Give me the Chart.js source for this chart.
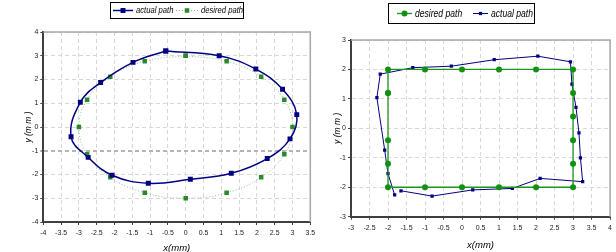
<!DOCTYPE html>
<html>
<head>
<meta charset="utf-8">
<script src="https://cdn.jsdelivr.net/npm/chart.js@4.4.1/dist/chart.umd.min.js"></script>
<style>
body { margin: 0; background: #fff; width: 616px; height: 252px; overflow: hidden; position: relative; }
#leftChart { position: absolute; left: 0; top: 0; }
#rightChart { position: absolute; left: 316px; top: 0; }
</style>
</head>
<body>
<canvas id="leftChart" width="325" height="252"></canvas>
<canvas id="rightChart" width="300" height="252"></canvas>
<script>
// left plot: circle path
var leftActualX = [-0.56, 0.94, 1.97, 2.72, 3.12, 2.93, 2.29, 1.28, 0.13, -1.05, -2.07, -2.74, -3.22, -2.96, -2.39, -1.48, -0.56];
var leftActualY = [3.2, 3.0, 2.44, 1.59, 0.52, -0.5, -1.33, -1.95, -2.2, -2.37, -2.03, -1.28, -0.41, 1.04, 1.87, 2.72, 3.2];
var leftDesiredX = [0, 1.15, 2.12, 2.77, 3, 2.77, 2.12, 1.15, 0, -1.15, -2.12, -2.77, -3, -2.77, -2.12, -1.15, 0];
var leftDesiredY = [3, 2.77, 2.12, 1.15, 0, -1.15, -2.12, -2.77, -3, -2.77, -2.12, -1.15, 0, 1.15, 2.12, 2.77, 3];

// right plot: rectangle path
var rightDesiredX = [-2, -2, -1, 0, 1, 2, 3, 3, 3, 3, 3, 3, 2, 1, 0, -1, -2, -2, -2, -2];
var rightDesiredY = [1.2, 2, 2, 2, 2, 2, 2, 1.2, 0.4, -0.4, -1.2, -2, -2, -2, -2, -2, -2, -1.2, -0.4, 1.2];
var rightActualX = [-1.65, -0.81, 0.29, 1.36, 2.11, 3.26, 3.2, 3.16, 3.08, 2.97, 2.93, 2.05, 0.87, -0.29, -1.33, -2.21, -2.30, -2.09, -2.0, -1.82];
var rightActualY = [-2.12, -2.3, -2.09, -2.04, -1.7, -1.81, -1.0, -0.15, 0.71, 1.5, 2.26, 2.45, 2.33, 2.11, 2.06, 1.84, 1.04, -0.74, -1.54, -2.26];

var leftRangeX = [-4, 3.5], leftRangeY = [-4, 4];
var rightRangeX = [-3, 4], rightRangeY = [-3, 3];
var xTitle = 'x(mm)', yTitle = 'y (m m )';

function toPoints(xs, ys) {
    var pts = [];
    for (var i = 0; i < xs.length; i++) pts.push({x: xs[i], y: ys[i]});
    return pts;
}

var FONT = '"Liberation Sans", Arial, sans-serif';
var NAVY = '#000080';

// gray frame on top and right of the plot
var frame = {
    id: 'frame',
    beforeDatasetsDraw(chart) {
        var a = chart.chartArea, c = chart.ctx;
        c.save();
        c.strokeStyle = '#a6a6a6';
        c.lineWidth = 1.5;
        c.beginPath();
        c.moveTo(a.left, a.top);
        c.lineTo(a.right, a.top);
        c.lineTo(a.right, a.bottom);
        c.stroke();
        c.restore();
    }
};

// legend with a box, line and marker per entry
var boxLegend = {
    id: 'boxLegend',
    afterDraw(chart, args, opts) {
        var c = chart.ctx;
        c.save();
        c.fillStyle = '#fff';
        c.fillRect(opts.x, opts.y, opts.w, opts.h);
        c.strokeStyle = '#000';
        c.lineWidth = 1;
        c.strokeRect(opts.x + 0.5, opts.y + 0.5, opts.w, opts.h);
        var my = opts.y + opts.h / 2 + 0.5;
        opts.items.forEach(function(it) {
            var ds = chart.data.datasets[it.index];
            c.strokeStyle = ds.borderColor;
            c.lineWidth = ds.borderWidth;
            c.setLineDash(ds.borderDash || []);
            c.beginPath();
            c.moveTo(it.x, my);
            c.lineTo(it.x + it.len, my);
            c.stroke();
            c.setLineDash([]);
            var cx = it.x + it.len / 2;
            c.fillStyle = ds.pointBackgroundColor;
            if (ds.pointStyle == 'circle') {
                c.beginPath();
                c.arc(cx, my, ds.pointRadius, 0, Math.PI * 2);
                c.fill();
            } else {
                var s = ds.pointRadius * Math.SQRT1_2;
                c.fillRect(cx - s, my - s, 2 * s, 2 * s);
            }
            // narrow italic text, squeezed sideways
            c.save();
            c.translate(it.x + it.len + 3, my);
            c.scale(0.78, 1);
            c.fillStyle = '#000';
            c.font = 'italic ' + opts.fontSize + 'px ' + FONT;
            c.textBaseline = 'middle';
            c.fillText(ds.label, 0, 0);
            c.restore();
        });
        c.restore();
    }
};

function axes(rx, ry, stepX, yw, xh, xtPad) {
    var grid = {
        color: function(ctx) { return ctx.tick && ctx.tick.value == -1 && ry[0] == -4 ? '#b4b4b4' : '#d8d8d8'; },
        lineWidth: function(ctx) { return ctx.tick && ctx.tick.value == -1 && ry[0] == -4 ? 2 : 1; },
        tickLength: 3,
        tickColor: '#404040',
        tickWidth: 1
    };
    var border = { color: '#404040', width: 2, dash: [4, 3] };
    var tickFont = { family: FONT, size: 7 };
    var fmt = function(v) { return String(Math.round(v * 10) / 10); };
    return {
        x: {
            type: 'linear', min: rx[0], max: rx[1],
            ticks: { stepSize: stepX, autoSkip: false, maxRotation: 0, color: '#222', font: tickFont, padding: 4, callback: fmt },
            grid: Object.assign({}, grid, { color: '#d8d8d8', lineWidth: 1 }),
            border: border,
            title: { display: true, text: xTitle, color: '#000', font: { family: FONT, size: 9.5, style: 'italic', lineHeight: 0.8 }, padding: { top: 0, bottom: xtPad } },
            afterFit: function(s) { s.height = xh; }
        },
        y: {
            type: 'linear', min: ry[0], max: ry[1],
            ticks: { stepSize: 1, color: '#222', font: tickFont, padding: 2, callback: fmt },
            grid: grid,
            border: border,
            title: { display: true, text: yTitle, color: '#000', font: { family: FONT, size: 8.5, style: 'italic', lineHeight: 1.2 }, padding: 0 },
            afterFit: function(s) { s.width = yw; }
        }
    };
}

new Chart(document.getElementById('leftChart'), {
    type: 'scatter',
    data: {
        datasets: [
        {
            label: 'actual path',
            data: toPoints(leftActualX, leftActualY),
            showLine: true,
            tension: 0.4,
            borderColor: NAVY,
            borderWidth: 1.5,
            pointStyle: 'rect',
            pointRadius: 3.5,
            pointBackgroundColor: NAVY,
            pointBorderWidth: 0
        },
        {
            label: 'desired path',
            data: toPoints(leftDesiredX, leftDesiredY),
            showLine: true,
            tension: 0.4,
            borderColor: '#88c488',
            borderWidth: 1,
            borderDash: [1, 2],
            pointStyle: 'rect',
            pointRadius: 3.2,
            pointBackgroundColor: '#2a8a2a',
            pointBorderWidth: 0
        }]
    },
    options: {
        responsive: false,
        animation: false,
        layout: { padding: { left: 23.6, right: 14.7, top: 32, bottom: 0 } },
        scales: axes(leftRangeX, leftRangeY, 0.5, 19.7, 30, 0),
        plugins: {
            legend: { display: false },
            tooltip: { enabled: false },
            boxLegend: {
                x: 110, y: 2, w: 133, h: 16, fontSize: 9.8,
                items: [{ index: 0, x: 113, len: 20 }, { index: 1, x: 176, len: 22 }]
            }
        }
    },
    plugins: [frame, boxLegend]
});

new Chart(document.getElementById('rightChart'), {
    type: 'scatter',
    data: {
        datasets: [
        {
            label: 'desired path',
            data: toPoints(rightDesiredX, rightDesiredY),
            showLine: true,
            borderColor: '#1a961a',
            borderWidth: 1.3,
            pointStyle: 'circle',
            pointRadius: 3,
            pointBackgroundColor: '#119011',
            pointBorderWidth: 0
        },
        {
            label: 'actual path',
            data: toPoints(rightActualX, rightActualY),
            showLine: true,
            borderColor: NAVY,
            borderWidth: 1,
            pointStyle: 'rect',
            pointRadius: 2.3,
            pointBackgroundColor: NAVY,
            pointBorderWidth: 0
        }]
    },
    options: {
        responsive: false,
        animation: false,
        layout: { padding: { left: 16.6, right: 3, top: 40, bottom: 0 } },
        scales: axes(rightRangeX, rightRangeY, 0.5, 18.4, 35.3, 3),
        plugins: {
            legend: { display: false },
            tooltip: { enabled: false },
            boxLegend: {
                x: 72, y: 3, w: 146, h: 20, fontSize: 11,
                items: [{ index: 0, x: 81, len: 15 }, { index: 1, x: 157, len: 15 }]
            }
        }
    },
    plugins: [frame, boxLegend]
});
</script>
</body>
</html>
